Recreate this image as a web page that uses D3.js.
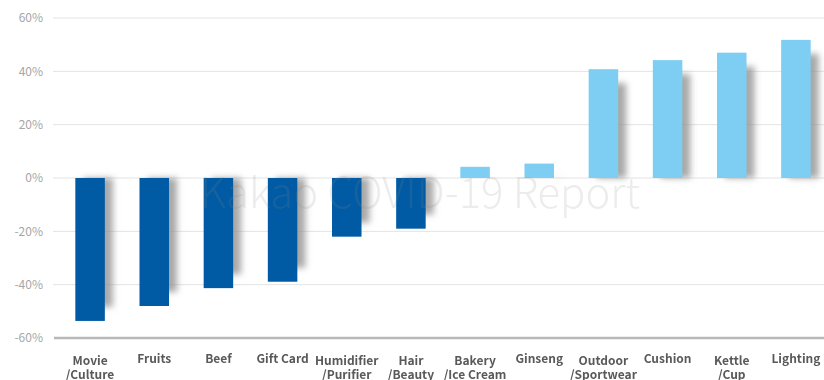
<!DOCTYPE html>
<html><head><meta charset="utf-8">
<script src="https://cdn.jsdelivr.net/npm/d3@7"></script>
<style>
html,body{margin:0;padding:0;background:#fff;}
svg{display:block;font-family:"Noto Sans CJK KR","Noto Sans",sans-serif;}
</style></head>
<body>
<script>
const categories = ["Movie\n/Culture","Fruits","Beef","Gift Card","Humidifier\n/Purifier","Hair\n/Beauty","Bakery\n/Ice Cream","Ginseng","Outdoor\n/Sportwear","Cushion","Kettle\n/Cup","Lighting"];
const values = [-53.6,-48,-41.3,-38.9,-22,-19,4.2,5.4,40.8,44.2,47,51.8];
const tickValues = [-60,-40,-20,0,20,40,60];
const tickLabels = ["-60%","-40%","-20%","0%","20%","40%","60%"];
const watermark = "Kakao COVID-19 Report";

const W = 824, H = 380;
const svg = d3.select("body").append("svg").attr("width", W).attr("height", H);

const defs = svg.append("defs");
const f = defs.append("filter").attr("id","blur").attr("x","-50%").attr("y","-20%").attr("width","200%").attr("height","140%");
f.append("feGaussianBlur").attr("stdDeviation", 3);

const x = d3.scaleBand().domain(categories).range([58, 828]).paddingInner(0.54).paddingOuter(0.27);
const y = d3.scaleLinear().domain([-60, 60]).range([338, 18]);

// gridlines
svg.append("g").selectAll("line").data(tickValues.filter(v => v !== -60)).join("line")
  .attr("x1", 53).attr("x2", W).attr("y1", d => y(d)).attr("y2", d => y(d))
  .attr("stroke", "#e3e3e3").attr("stroke-width", 1);

// y axis labels
const yAxis = d3.axisLeft(y).tickValues(tickValues).tickFormat((d, i) => tickLabels[i]).tickSize(0).tickPadding(0);
const ya = svg.append("g").attr("transform", "translate(43,0)").call(yAxis);
ya.select(".domain").remove();
ya.selectAll("text").attr("fill", "#a6a6a6").style("font-size", "12px").style("font-family", '"Noto Sans CJK KR","Noto Sans",sans-serif');

// shadows
svg.append("g").attr("filter", "url(#blur)").selectAll("rect").data(values).join("rect")
  .attr("x", (d, i) => x(categories[i]) + 8)
  .attr("width", x.bandwidth())
  .attr("y", d => d >= 0 ? y(d) + 14 : y(0))
  .attr("height", d => Math.max(0, Math.abs(y(d) - y(0)) - 14))
  .attr("fill", "#8c8c8c").attr("opacity", 0.75);

// bars
svg.append("g").selectAll("rect").data(values).join("rect")
  .attr("x", (d, i) => x(categories[i]))
  .attr("width", x.bandwidth())
  .attr("y", d => d >= 0 ? y(d) : y(0))
  .attr("height", d => Math.abs(y(d) - y(0)))
  .attr("fill", d => d < 0 ? "#005ba4" : "#7ecdf3");

// watermark (overlay)
svg.append("text").attr("x", 200).attr("y", 208).attr("text-anchor", "start")
  .attr("textLength", 440).attr("lengthAdjust", "spacingAndGlyphs")
  .style("font-size", "42px").style("font-weight", 300).attr("fill", "#888").attr("fill-opacity", 0.16).text(watermark);

// bottom axis line
svg.append("line").attr("x1", 54).attr("x2", W).attr("y1", y(-60)).attr("y2", y(-60))
  .attr("stroke", "#b8b8b8").attr("stroke-width", 2.5);

// category labels
const lg = svg.append("g");
categories.forEach((d, i) => {
  const parts = d.split("\n");
  const cx = x(d) + x.bandwidth() / 2;
  parts.forEach((p, j) => {
    lg.append("text").attr("x", cx).attr("y", parts.length > 1 ? 365 + j * 14 : 363)
      .attr("text-anchor", "middle").attr("fill", "#595959")
      .style("font-size", "12px").style("font-weight", 700).text(p);
  });
});
</script>
</body></html>
